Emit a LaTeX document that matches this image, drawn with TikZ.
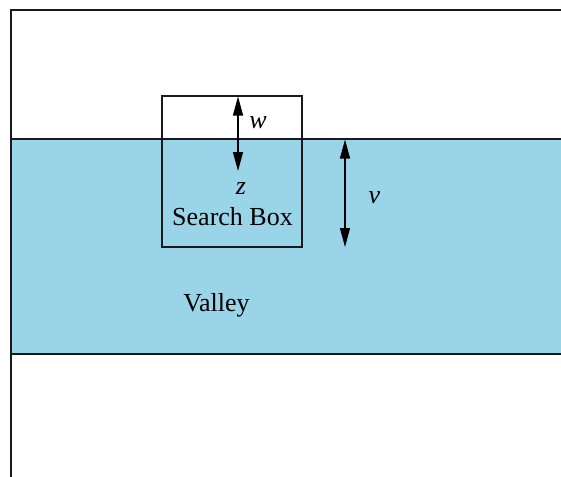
\documentclass[tikz,border=0pt]{standalone}
\usepackage{fontspec}
\setmainfont{Liberation Serif}
\usetikzlibrary{positioning}
\usetikzlibrary{arrows.meta}

\begin{document}
\begin{tikzpicture}[
        x=1pt, y=-1pt,
        every node/.style={inner sep=0pt},
        label/.style={anchor=base, font=\fontsize{26}{30}\selectfont},
        dim/.style={draw=black, line width=1.2pt, {Triangle[length=19pt,width=10pt]}-{Triangle[length=19pt,width=10pt]}},
        frame/.style={draw=black!90, line width=1.2pt},
    ]
        % Color palette
        \definecolor{valleyblue}{RGB}{154,212,233}
        \useasboundingbox (0,0) rectangle (561,476);
        % Valley
        \fill[valleyblue] (11,139) rectangle (570,354);
        \draw[frame] (11,139) -- (570,139);
        \draw[frame] (11,354) -- (570,354);
        % Outer frame
        \draw[frame] (570,10) -- (11,10) -- (11,480);
        % Search box
        \node[frame, minimum width=140pt, minimum height=151pt] (box) at (232,171.5) {};
        \node[label] (sbox) at (232.5,225) {Search Box};
        \node[label] (z) at (241,194) {\textit{z}};
        \node[label] (valley) at (216.5,311) {Valley};
        % Dimensions
        \coordinate (wtop) at (238,96.5);
        \coordinate (wbot) at (238,171);
        \coordinate (vtop) at (345,139.5);
        \coordinate (vbot) at (345,247);
        \draw[dim] (wtop) -- (wbot);
        \draw[dim] (vtop) -- (vbot);
        \node[label] (w) at (258,128) {\textit{w}};
        \node[label] (v) at (374.5,203) {\textit{v}};

    \end{tikzpicture}
\end{document}
